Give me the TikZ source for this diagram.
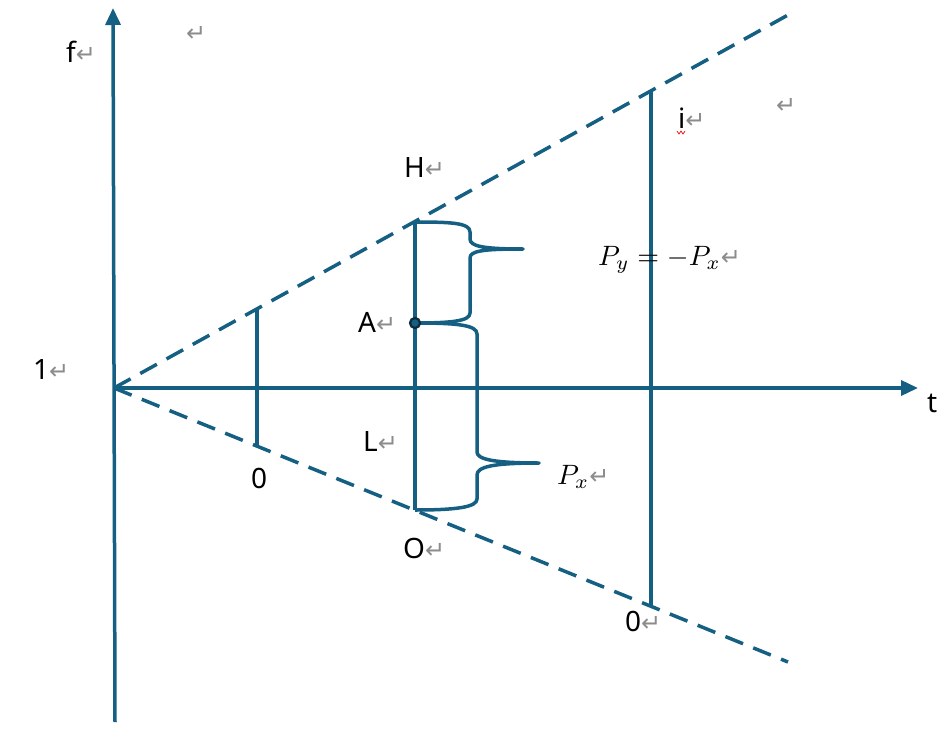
\documentclass[tikz,border=0pt]{standalone}
\usepackage{graphicx}
\usepackage{fontspec}
\setmainfont{Noto Sans}
\newfontfamily\retfont{DejaVu Sans}
\usetikzlibrary{arrows.meta}
\definecolor{AxisBlue}{RGB}{21,96,130}
\definecolor{DotNavy}{RGB}{14,43,59}
\definecolor{RetGrey}{RGB}{140,140,140}
\definecolor{SpellRed}{RGB}{230,30,30}
\newcommand{\parmark}{{\retfont\fontsize{24}{26}\selectfont\color{RetGrey}↵}}
\newcommand{\bigmath}[1]{\scalebox{2.8}{\normalsize$#1$}}

\begin{document}
\begin{tikzpicture}[
            x=1pt, y=-1pt,
            axis/.style={line width=3.5pt, draw=AxisBlue, -{Triangle[length=17pt,width=15pt]}},
            bound/.style={line width=3.5pt, draw=AxisBlue, dash pattern=on 19pt off 11pt},
            rod/.style={line width=3.5pt, draw=AxisBlue},
            brace/.style={line width=3.5pt, draw=AxisBlue, line join=round},
            lbl/.style={anchor=west, inner sep=0pt, font=\fontsize{28}{30}\selectfont}
        ]
            \useasboundingbox (0,0) rectangle (952,730);

            % axes and the two bounding lines
            \coordinate (orig) at (114,388);
            \coordinate (fbot) at (115,722);
            \coordinate (ftop) at (113,8);
            \coordinate (tend) at (918,388);
            \coordinate (upend) at (788,15);
            \coordinate (loend) at (788,662);
            \draw[axis] (fbot) -- (ftop);
            \draw[axis] (orig) -- (tend);
            \draw[bound] (orig) -- (upend);
            \draw[bound] (orig) -- (loend);

            % vertical rods between the bounds
            \coordinate (r1top) at (257,309);
            \coordinate (r1bot) at (257,446);
            \coordinate (Htop) at (415,222);
            \coordinate (Obot) at (415,510);
            \coordinate (r3top) at (651,91);
            \coordinate (r3bot) at (651,605);
            \draw[rod] (r1top) -- (r1bot);
            \draw[rod] (Htop) -- (Obot);
            \draw[rod] (r3top) -- (r3bot);

            % point A and the two braces
            \coordinate (Apt) at (415,323);
            \draw[brace] (Htop) .. controls (452,222) and (470,223) .. (470,232)
                -- (470,239) .. controls (470,246) and (482,249) .. (523,249)
                .. controls (482,249) and (470,251) .. (470,258)
                -- (470,313) .. controls (470,321) and (452,323) .. (Apt);
            \draw[brace] (Apt) .. controls (457,323) and (477,325) .. (477,334)
                -- (477,452) .. controls (477,459) and (492,463) .. (539,463)
                .. controls (492,463) and (477,467) .. (477,475)
                -- (477,499) .. controls (477,507) and (457,510) .. (Obot);
            \filldraw[fill=AxisBlue, draw=DotNavy, line width=2.2pt] (Apt) circle (5pt);

            % labels
            \node[lbl] (flab) at (66,52) {f\parmark};
            \node[lbl] (ret1) at (186,34) {\parmark};
            \node[lbl] (Hlab) at (404,168) {H\parmark};
            \node[lbl] (ilab) at (678,118) {i\parmark};
            \node[lbl] (ret2) at (776,106) {\parmark};
            \node[lbl] (eqlab) at (598,260) {\bigmath{P_y = -P_x}\parmark};
            \node[lbl] (Alab) at (358,322) {A\parmark};
            \node[lbl] (onelab) at (33,370) {1\parmark};
            \node[lbl] (Llab) at (363,441) {L\parmark};
            \node[lbl] (Pxlab) at (557,477) {\bigmath{P_x}\parmark};
            \node[lbl] (Olab) at (403,548) {O\parmark};
            \node[lbl] (zrlab) at (625,621) {0\parmark};
            \node[lbl] (zllab) at (251,478) {0};
            \node[lbl] (tlab) at (927,403) {t};

            % spelling squiggle under i
            \draw[SpellRed, line width=0.8pt] (677,131) -- (679,134) -- (681,131) -- (683,134) -- (685,131);
        \end{tikzpicture}
\end{document}
